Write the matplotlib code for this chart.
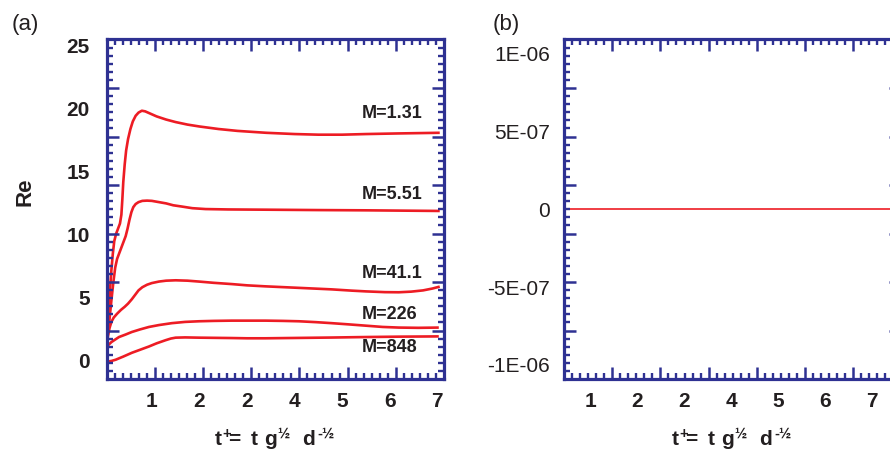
import numpy as np
import matplotlib
matplotlib.use("Agg")
import matplotlib.pyplot as plt
from matplotlib.ticker import MultipleLocator

plt.rcParams['font.family'] = ['Liberation Sans', 'DejaVu Sans']
plt.rcParams['mathtext.fontset'] = 'custom'
plt.rcParams['mathtext.rm'] = 'Liberation Sans:bold'
plt.rcParams['mathtext.it'] = 'Liberation Sans:bold'
plt.rcParams['mathtext.bf'] = 'Liberation Sans:bold'

# Re(t+) curves
t_m131 = [0.055, 0.09, 0.12, 0.15, 0.18, 0.21, 0.25, 0.29, 0.33, 0.36, 0.38, 0.40, 0.43, 0.46,
          0.50, 0.55, 0.60, 0.66, 0.72, 0.79, 0.86, 0.95, 1.1, 1.3, 1.5, 1.75, 2.0, 2.4, 2.8,
          3.4, 4.0, 4.5, 5.0, 5.5, 6.2, 7.05]
re_m131 = [1.8, 3.8, 5.6, 7.2, 8.5, 9.5, 10.1, 10.5, 10.9, 11.6, 12.8, 14.2, 15.6, 16.7,
           17.6, 18.4, 19.0, 19.45, 19.7, 19.85, 19.8, 19.65, 19.4, 19.15, 18.95, 18.75, 18.6,
           18.4, 18.25, 18.1, 18.0, 17.95, 17.95, 18.0, 18.05, 18.1]

t_m551 = [0.055, 0.08, 0.11, 0.15, 0.19, 0.23, 0.27, 0.31, 0.35, 0.40, 0.45, 0.49, 0.53, 0.57,
          0.61, 0.66, 0.72, 0.8, 0.9, 1.0, 1.15, 1.3, 1.45, 1.63, 1.85, 2.13, 2.6, 3.4, 4.5,
          5.5, 7.05]
re_m551 = [1.5, 2.3, 3.3, 4.8, 6.2, 7.4, 8.1, 8.5, 8.9, 9.4, 9.9, 10.5, 11.2, 11.8,
           12.2, 12.45, 12.6, 12.7, 12.72, 12.7, 12.6, 12.5, 12.35, 12.25, 12.12, 12.05, 12.02,
           12.0, 11.97, 11.95, 11.9]

t_m411 = [0.055, 0.08, 0.11, 0.15, 0.2, 0.27, 0.35, 0.43, 0.5, 0.58, 0.65, 0.72, 0.8, 0.9,
          1.0, 1.15, 1.3, 1.5, 1.75, 1.99, 2.3, 2.68, 3.0, 3.39, 4.09, 4.78, 5.2, 5.5, 5.9,
          6.19, 6.45, 6.7, 6.9, 7.05]
re_m411 = [1.4, 2.0, 2.6, 3.1, 3.45, 3.75, 4.05, 4.3, 4.55, 4.9, 5.25, 5.6, 5.85, 6.05,
           6.18, 6.3, 6.37, 6.4, 6.37, 6.3, 6.2, 6.1, 6.0, 5.92, 5.8, 5.68, 5.58, 5.52, 5.46,
           5.45, 5.5, 5.6, 5.75, 5.9]

t_m226 = [0.055, 0.15, 0.31, 0.45, 0.58, 0.75, 0.94, 1.15, 1.42, 1.7, 1.99, 2.3, 2.68, 3.0,
          3.39, 3.75, 4.09, 4.45, 4.78, 5.15, 5.5, 5.85, 6.19, 6.6, 7.03]
re_m226 = [1.15, 1.5, 1.9, 2.1, 2.3, 2.5, 2.7, 2.85, 3.0, 3.1, 3.15, 3.18, 3.2, 3.2,
           3.2, 3.18, 3.15, 3.08, 3.0, 2.9, 2.8, 2.7, 2.65, 2.63, 2.65]

t_m848 = [0.055, 0.15, 0.24, 0.4, 0.58, 0.76, 0.94, 1.1, 1.29, 1.4, 1.5, 1.7, 1.99, 2.68,
          3.0, 3.39, 4.09, 4.78, 5.5, 6.2, 7.03]
re_m848 = [-0.05, 0.0, 0.1, 0.35, 0.65, 0.9, 1.15, 1.4, 1.65, 1.78, 1.85, 1.87, 1.85, 1.82,
           1.8, 1.8, 1.83, 1.86, 1.9, 1.93, 1.95]

labels_m = ['M=1.31', 'M=5.51', 'M=41.1', 'M=226', 'M=848']
label_y = [19.6, 13.2, 6.95, 3.7, 1.07]

# panel (b): imaginary part stays at zero
t_b = [0.435, 7.63]
im_b = [0.0, 0.0]

x_ticks = [1, 2, 3, 4, 5, 6, 7]
x_ticklabels = ['1', '2', '2', '4', '5', '6', '7']
ya_ticks = [0, 5, 10, 15, 20, 25]
yb_ticks = [-1e-6, -5e-7, 0, 5e-7, 1e-6]
yb_ticklabels = ['-1E-06', '-5E-07', '0', '5E-07', '1E-06']

red = '#ED1C24'
navy = '#2E3192'
ink = '#231F20'

fig = plt.figure(figsize=(8.9, 4.55), dpi=100)
W, H = 0.3792, 0.7462
pos_a = [0.1197, 0.167, W, H]
pos_b = [0.6337, 0.167, W, H]


def frame(pos):
    # the 7x7 division tick frame drawn over each panel
    fr = fig.add_axes(pos, zorder=3)
    fr.set_facecolor('none')
    fr.set_xlim(0, 7)
    fr.set_ylim(0, 7)
    for s in fr.spines.values():
        s.set_color(navy)
        s.set_linewidth(2.3)
    fr.xaxis.set_major_locator(MultipleLocator(1))
    fr.xaxis.set_minor_locator(MultipleLocator(1 / 6))
    fr.yaxis.set_major_locator(MultipleLocator(1))
    fr.yaxis.set_minor_locator(MultipleLocator(1 / 6))
    fr.tick_params(which='both', direction='in', top=True, right=True, color=navy,
                   labelbottom=False, labelleft=False)
    fr.tick_params(which='major', length=8.5, width=1.8)
    fr.tick_params(which='minor', length=4.2, width=1.7)
    return fr


# panel (a)
ax = fig.add_axes(pos_a, zorder=2)
ax.set_facecolor('none')
for t, r in [(t_m131, re_m131), (t_m551, re_m551), (t_m411, re_m411),
             (t_m226, re_m226), (t_m848, re_m848)]:
    ax.plot(t, r, color=red, lw=1.9, solid_joinstyle='round', solid_capstyle='butt')
for lab, yy in zip(labels_m, label_y):
    ax.text(5.41, yy, lab, ha='left', va='center', fontsize=13, fontweight='bold', color=ink)
ax.set_xlim(0.048, 7.14)
ax.set_ylim(-1.43, 25.5)
ax.set_xticks(x_ticks, x_ticklabels)
ax.set_yticks(ya_ticks)
ax.tick_params(length=0, labelsize=15, labelcolor=ink)
ax.tick_params(axis='y', pad=12)
ax.tick_params(axis='x', pad=9.5)
for lb in ax.get_xticklabels() + ax.get_yticklabels():
    lb.set_fontweight('bold')
for s in ax.spines.values():
    s.set_visible(False)
frame(pos_a)

# panel (b)
bx = fig.add_axes(pos_b, zorder=2)
bx.set_facecolor('none')
bx.plot(t_b, im_b, color=red, lw=1.2)
bx.set_xlim(0.435, 7.63)
bx.set_ylim(-1.09e-6, 1.09e-6)
bx.set_xticks(x_ticks, x_ticklabels)
bx.set_yticks(yb_ticks, yb_ticklabels)
bx.tick_params(length=0, labelsize=15, labelcolor=ink)
bx.tick_params(axis='y', pad=10)
bx.tick_params(axis='x', pad=9.5)
for lb in bx.get_xticklabels():
    lb.set_fontweight('bold')
for s in bx.spines.values():
    s.set_visible(False)
frame(pos_b)

# labels
xlab = r'$t^{+}\!\!=\ t\ g^{½}\ \ d^{\text{-}½}$'
fig.text(0.309, 0.033, xlab, ha='center', va='center', fontsize=15, color=ink)
fig.text(0.8225, 0.033, xlab, ha='center', va='center', fontsize=15, color=ink)
fig.text(0.028, 0.578, 'Re', rotation=90, ha='center', va='center',
         fontsize=16, fontweight='bold', color=ink)
fig.text(0.0135, 0.947, '(a)', ha='left', va='center', fontsize=16, color=ink)
fig.text(0.554, 0.947, '(b)', ha='left', va='center', fontsize=16, color=ink)

fig.savefig('out.png', dpi=100)
